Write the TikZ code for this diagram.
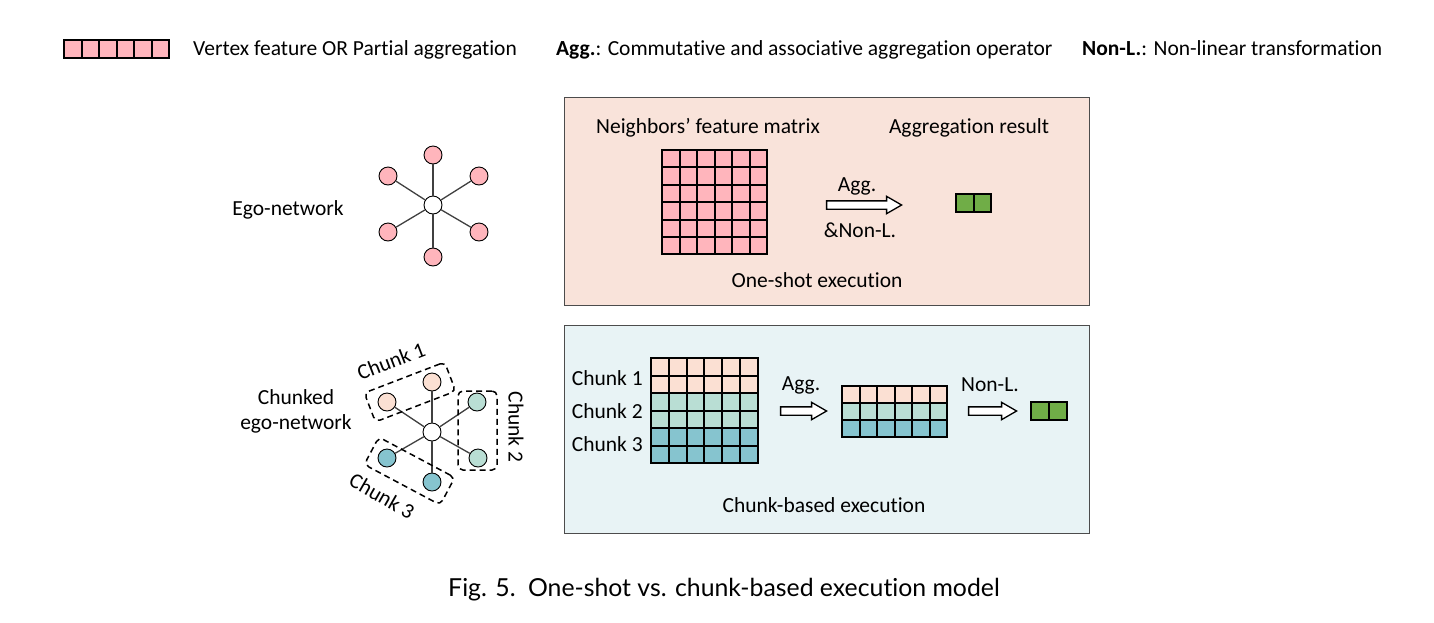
\documentclass[tikz,border=0pt]{standalone}
\usepackage{fontspec}
\setmainfont{Carlito}[Ligatures=NoCommon]
\newfontfamily\capfont{Lato}[Ligatures=NoCommon]
\usepackage{tikz}
\usepackage{xcolor}
\usetikzlibrary{shapes, positioning, shapes.arrows}

\definecolor{featpink}{HTML}{FFB5BC}
\definecolor{chpeach}{HTML}{FBE0D3}
\definecolor{chmint}{HTML}{B9DED4}
\definecolor{chteal}{HTML}{86C4CF}
\definecolor{resgreen}{HTML}{70AD47}
\definecolor{oneshotbg}{HTML}{F9E3DA}
\definecolor{chunkbg}{HTML}{E8F3F5}

\tikzset{
    txt/.style={font=\fontsize{21.5}{25}\selectfont, inner sep=0pt},
    cell/.style={draw=black, line width=2pt},
    vtx/.style={circle, draw=black, line width=0.9pt, minimum size=18pt, inner sep=0pt},
    spoke/.style={draw=black!75, line width=1.3pt},
    chunkbox/.style={draw=black, dashed, dash pattern=on 6pt off 4pt, line width=1.5pt, rounded corners=5pt, inner sep=0pt},
    fatarrow/.style={single arrow, draw=black, line width=1.3pt, fill=white, inner sep=3.5pt,
        single arrow head extend=4.5pt, single arrow tip angle=60, minimum height=#1},
    panel/.style={draw=black!70, line width=1pt},
}

\begin{document}
\begin{tikzpicture}[x=1pt, y=-1pt]
        \useasboundingbox[fill=white] (0,0) rectangle (1434,622);

        % legend
        \foreach \i in {0,...,5}
            \draw[cell, fill=featpink] (64+17.5*\i, 40) rectangle ++(17.5,18);
        \node[txt, anchor=base west] (lgvtx) at (193,55) {Vertex feature OR Partial aggregation};
        \node[txt, anchor=base west] (lgagg) at (556,55) {\textbf{Agg.}: Commutative and associative aggregation operator};
        \node[txt, anchor=base west] (lgnonl) at (1082,55) {\textbf{Non-L.}: Non-linear transformation};

        % panels
        \draw[panel, fill=oneshotbg] (564,97) rectangle (1089,305);
        \draw[panel, fill=chunkbg] (564,325) rectangle (1089,533);

        % ego-network
        \node[txt] (egolbl) at (288,210) {Ego-network};
        \node[vtx, fill=white] (e0) at (433,205) {};
        \node[vtx, fill=featpink] (e1) at (433,155) {};
        \node[vtx, fill=featpink] (e2) at (388,176) {};
        \node[vtx, fill=featpink] (e3) at (479,176) {};
        \node[vtx, fill=featpink] (e4) at (388,232) {};
        \node[vtx, fill=featpink] (e5) at (479,232) {};
        \node[vtx, fill=featpink] (e6) at (433,257) {};
        \foreach \n in {e1,e2,e3,e4,e5,e6}
            \draw[spoke] (e0) -- (\n);

        % one-shot execution
        \node[txt] (nbrlbl) at (708,128) {Neighbors' feature matrix};
        \node[txt] (reslbl) at (969,128) {Aggregation result};
        \foreach \i in {0,...,5}
            \foreach \j in {0,...,5}
                \draw[cell, fill=featpink] (662+17.5*\i, 150+17.4*\j) rectangle ++(17.5,17.4);
        \node[fatarrow=75pt] (arrone) at (860.5,205) {};
        \node[txt] (aggone) at (857,186) {Agg.};
        \node[txt] (nonlone) at (860,230) {\&Non-L.};
        \foreach \i in {0,1}
            \draw[cell, fill=resgreen] (956+17.5*\i, 194) rectangle ++(17.5,18);
        \node[txt] (onelbl) at (817,280) {One-shot execution};

        % chunked ego-network
        \node[txt, align=center] (chklbl) at (296,411) {Chunked\\ego-network};
        \node[vtx, fill=white] (c0) at (432,432) {};
        \node[vtx, fill=chpeach] (c1) at (432,382) {};
        \node[vtx, fill=chpeach] (c2) at (387,402) {};
        \node[vtx, fill=chmint] (c3) at (477,402) {};
        \node[vtx, fill=chteal] (c4) at (387,458) {};
        \node[vtx, fill=chmint] (c5) at (478,458) {};
        \node[vtx, fill=chteal] (c6) at (432,482) {};
        \foreach \n in {c1,c2,c3,c4,c5,c6}
            \draw[spoke] (c0) -- (\n);
        \node[chunkbox, rotate=21, minimum width=86pt, minimum height=31pt] (box1) at (410,392) {};
        \node[chunkbox, minimum width=39pt, minimum height=79pt] (box2) at (477.5,430.5) {};
        \node[chunkbox, rotate=-28, minimum width=86pt, minimum height=31pt] (box3) at (409.5,471) {};
        \node[txt, rotate=21] (box1lbl) at (391,361) {Chunk 1};
        \node[txt, rotate=-90] (box2lbl) at (516,427) {Chunk 2};
        \node[txt, rotate=-30] (box3lbl) at (382,496) {Chunk 3};

        % chunk-based execution
        \foreach \j/\c in {0/chpeach,1/chpeach,2/chmint,3/chmint,4/chteal,5/chteal}
            \foreach \i in {0,...,5}
                \draw[cell, fill=\c] (651+17.8*\i, 358+17.5*\j) rectangle ++(17.8,17.5);
        \node[txt, anchor=east] (ch1lbl) at (643,378) {Chunk 1};
        \node[txt, anchor=east] (ch2lbl) at (643,411) {Chunk 2};
        \node[txt, anchor=east] (ch3lbl) at (643,444) {Chunk 3};
        \node[fatarrow=46pt] (arragg) at (800,411) {};
        \node[txt] (aggtwo) at (801,385) {Agg.};
        \foreach \j/\c in {0/chpeach,1/chmint,2/chteal}
            \foreach \i in {0,...,5}
                \draw[cell, fill=\c] (842+17.5*\i, 386+17*\j) rectangle ++(17.5,17);
        \node[fatarrow=48pt] (arrnonl) at (989,411) {};
        \node[txt] (nonltwo) at (990,385) {Non-L.};
        \foreach \i in {0,1}
            \draw[cell, fill=resgreen] (1031+18*\i, 402) rectangle ++(18,18);
        \node[txt] (chunkexlbl) at (824,505) {Chunk-based execution};

        % caption
        \node[font=\capfont\fontsize{24.8}{28}\selectfont, inner sep=0pt] (caption) at (724,590) {Fig. 5.\enspace One-shot vs. chunk-based execution model};
    \end{tikzpicture}
\end{document}
